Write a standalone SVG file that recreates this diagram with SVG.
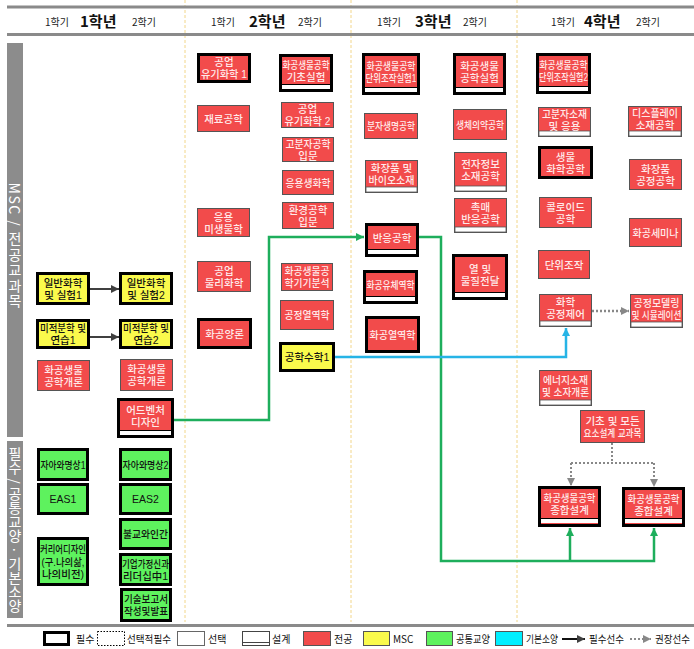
<svg xmlns="http://www.w3.org/2000/svg" width="694" height="649" viewBox="0 0 694 649">
<style>
text{font-family:"Noto Sans CJK KR","Noto Sans",sans-serif}
.t{font-family:"Liberation Sans","Noto Sans CJK KR",sans-serif;font-size:10.5px;text-anchor:middle;font-weight:500}
.w{fill:#ffeaea}
.k{fill:#111}
.R{fill:#f24b4b}
.Y{fill:#fafa4c}
.G{fill:#5ef25e}
.C{fill:#00efff}
.tk{stroke:#000;stroke-width:3}
.tn{stroke:#555;stroke-width:1}
.bd{fill:#fff}
.bdn{fill:#fff;stroke:#555;stroke-width:0.8}
.bl{fill:#000}
.hdr{font-size:10px;fill:#222}
.yr{font-size:15px;font-weight:bold;fill:#111}
.side{font-size:14px;fill:#fff;text-anchor:middle;writing-mode:vertical-rl}
.lg{font-size:10px;fill:#111}
.sep{stroke:#f2d68a;stroke-width:1;stroke-dasharray:3,2}
.hl{stroke:#8a8a8a;stroke-width:3}
</style>
<defs>
<marker id="ak" markerUnits="userSpaceOnUse" markerWidth="8" markerHeight="8" refX="8" refY="4" orient="auto"><path d="M0,0L8,4L0,8z" fill="#404040"/></marker>
<marker id="ag" markerUnits="userSpaceOnUse" markerWidth="8" markerHeight="8" refX="8" refY="4" orient="auto"><path d="M0,0L8,4L0,8z" fill="#1eae5c"/></marker>
<marker id="ab" markerUnits="userSpaceOnUse" markerWidth="8" markerHeight="8" refX="8" refY="4" orient="auto"><path d="M0,0L8,4L0,8z" fill="#26b4e6"/></marker>
<marker id="ad" markerUnits="userSpaceOnUse" markerWidth="8" markerHeight="8" refX="8" refY="4" orient="auto"><path d="M0,0L8,4L0,8z" fill="#888"/></marker>
</defs>
<rect width="694" height="649" fill="#fff"/>
<g id="frame">
<line class="sep" x1="185" y1="0" x2="185" y2="622"/>
<line class="sep" x1="351" y1="0" x2="351" y2="622"/>
<line class="sep" x1="517" y1="0" x2="517" y2="622"/>
<line class="hl" x1="7" y1="7" x2="694" y2="7"/>
<line class="hl" x1="7" y1="34.5" x2="694" y2="34.5"/>
<line class="hl" x1="7" y1="625.5" x2="694" y2="625.5"/>
<text class="hdr" x="45" y="26">1학기</text><text class="yr" x="80" y="27">1학년</text><text class="hdr" x="132" y="26">2학기</text>
<text class="hdr" x="211" y="26">1학기</text><text class="yr" x="249" y="27">2학년</text><text class="hdr" x="298" y="26">2학기</text>
<text class="hdr" x="377" y="26">1학기</text><text class="yr" x="415" y="27">3학년</text><text class="hdr" x="463" y="26">2학기</text>
<text class="hdr" x="551" y="26">1학기</text><text class="yr" x="584" y="27">4학년</text><text class="hdr" x="636" y="26">2학기</text>
<rect x="7" y="43" width="16" height="394" fill="#8c8c8c"/>
<rect x="7" y="441" width="16" height="177" fill="#8c8c8c"/>
<text class="side" x="15" y="246" style="letter-spacing:1.5px">MSC / 전공교과목</text>
<text class="side" x="15" y="530">필수 / 공통교양 · 기본소양</text>
</g>
<g id="connectors" fill="none">
<path d="M90,289H119" stroke="#404040" stroke-width="2" marker-end="url(#ak)"/>
<path d="M90,337H119" stroke="#404040" stroke-width="2" marker-end="url(#ak)"/>
<path d="M174,420H269V237H364" stroke="#1eae5c" stroke-width="2.5" marker-end="url(#ag)"/>
<path d="M419,237H441V561H654V528" stroke="#1eae5c" stroke-width="2.5" marker-end="url(#ag)"/>
<path d="M570,561V528" stroke="#1eae5c" stroke-width="2.5" marker-end="url(#ag)"/>
<path d="M335,357H566V328" stroke="#26b4e6" stroke-width="2.5" marker-end="url(#ab)"/>
<path d="M592,311H629" stroke="#888" stroke-width="2.5" stroke-dasharray="2,2" marker-end="url(#ad)"/>
<path d="M612,443V463M571,463H654" stroke="#888" stroke-width="2" stroke-dasharray="2,2"/>
<path d="M571,463V486" stroke="#888" stroke-width="2" stroke-dasharray="2,2" marker-end="url(#ad)"/>
<path d="M654,463V487" stroke="#888" stroke-width="2" stroke-dasharray="2,2" marker-end="url(#ad)"/>
</g>
<!-- Year 1 -->
<g id="n-genchem1"><rect class="Y tk" x="37.5" y="273.5" width="51" height="30"/><text class="t k" x="63" y="286.5">일반화학<tspan x="63" dy="12">및 실험1</tspan></text></g>
<g id="n-genchem2"><rect class="Y tk" x="120.5" y="273.5" width="51" height="30"/><text class="t k" x="146" y="286.5">일반화학<tspan x="146" dy="12">및 실험2</tspan></text></g>
<g id="n-calc1"><rect class="Y tk" x="37.5" y="320.5" width="51" height="27"/><text class="t k" x="63" y="332"><tspan textLength="46" lengthAdjust="spacingAndGlyphs">미적분학 및</tspan><tspan x="63" dy="12">연습1</tspan></text></g>
<g id="n-calc2"><rect class="Y tk" x="120.5" y="320.5" width="51" height="27"/><text class="t k" x="146" y="332"><tspan textLength="46" lengthAdjust="spacingAndGlyphs">미적분학 및</tspan><tspan x="146" dy="12">연습2</tspan></text></g>
<g id="n-intro1"><rect class="R tn" x="37.5" y="360.5" width="52" height="30"/><text class="t w" x="63.5" y="373.5">화공생물<tspan x="63.5" dy="12">공학개론</tspan></text></g>
<g id="n-intro2"><rect class="R tn" x="120.5" y="359.5" width="52" height="31"/><text class="t w" x="146.5" y="373">화공생물<tspan x="146.5" dy="12">공학개론</tspan></text></g>
<g id="n-adventure"><rect class="R tk" x="118.5" y="399.5" width="54" height="37"/><rect class="bl" x="120" y="430" width="51" height="1"/><rect class="bd" x="120" y="431" width="51" height="4"/><text class="t w" x="145.5" y="413.5">어드벤처<tspan x="145.5" dy="12">디자인</tspan></text></g>
<g id="n-self1"><rect class="G tk" x="38.5" y="449.5" width="49" height="30"/><text class="t k" x="63" y="468.5" textLength="45" lengthAdjust="spacingAndGlyphs">자아와명상1</text></g>
<g id="n-eas1"><rect class="G tk" x="38.5" y="484.5" width="49" height="29"/><text class="t k" x="63" y="503">EAS1</text></g>
<g id="n-career"><rect class="G tk" x="38.5" y="538.5" width="49" height="46"/><text class="t k" x="63" y="553"><tspan textLength="46" lengthAdjust="spacingAndGlyphs">커리어디자인</tspan><tspan x="63" dy="12.5" textLength="43" lengthAdjust="spacingAndGlyphs">(구.나의삶,</tspan><tspan x="63" dy="12.5">나의비전)</tspan></text></g>
<g id="n-self2"><rect class="G tk" x="120.5" y="449.5" width="50" height="30"/><text class="t k" x="145.5" y="468.5" textLength="46" lengthAdjust="spacingAndGlyphs">자아와명상2</text></g>
<g id="n-eas2"><rect class="G tk" x="120.5" y="484.5" width="50" height="29"/><text class="t k" x="145.5" y="503">EAS2</text></g>
<g id="n-buddhism"><rect class="G tk" x="120.5" y="519.5" width="50" height="29"/><text class="t k" x="145.5" y="538" textLength="45" lengthAdjust="spacingAndGlyphs">불교와인간</text></g>
<g id="n-leader"><rect class="G tk" x="120.5" y="554.5" width="50" height="30"/><text class="t k" x="145.5" y="567.5"><tspan textLength="47" lengthAdjust="spacingAndGlyphs">기업가정신과</tspan><tspan x="145.5" dy="12" textLength="45" lengthAdjust="spacingAndGlyphs">리더십中1</tspan></text></g>
<g id="n-report"><rect class="G tk" x="121.5" y="589.5" width="49" height="31"/><text class="t k" x="146" y="603"><tspan textLength="44" lengthAdjust="spacingAndGlyphs">기술보고서</tspan><tspan x="146" dy="12" textLength="44" lengthAdjust="spacingAndGlyphs">작성및발표</tspan></text></g>
<!-- Year 2 -->
<g id="n-orgchem1"><rect class="R tk" x="198.5" y="54.5" width="51" height="27"/><text class="t w" x="224" y="66">공업<tspan x="224" dy="12" textLength="46" lengthAdjust="spacingAndGlyphs">유기화학 1</tspan></text></g>
<g id="n-basiclab"><rect class="R tk" x="280.5" y="55.5" width="51" height="35"/><rect class="bl" x="282" y="84" width="48" height="1"/><rect class="bd" x="282" y="85" width="48" height="4"/><text class="t w" x="306" y="68.5"><tspan textLength="47" lengthAdjust="spacingAndGlyphs">화공생물공학</tspan><tspan x="306" dy="12">기초실험</tspan></text></g>
<g id="n-material"><rect class="R tn" x="197.5" y="105.5" width="52" height="26"/><text class="t w" x="223.5" y="122.5">재료공학</text></g>
<g id="n-orgchem2"><rect class="R tn" x="281.5" y="102.5" width="52" height="25"/><text class="t w" x="307.5" y="113">공업<tspan x="307.5" dy="12" textLength="46" lengthAdjust="spacingAndGlyphs">유기화학 2</tspan></text></g>
<g id="n-polymer"><rect class="R tn" x="282.5" y="137.5" width="51" height="24"/><text class="t w" x="308" y="147.5"><tspan textLength="45" lengthAdjust="spacingAndGlyphs">고분자공학</tspan><tspan x="308" dy="12">입문</tspan></text></g>
<g id="n-biochem"><rect class="R tn" x="282.5" y="170.5" width="51" height="24"/><text class="t w" x="308" y="186.5" textLength="45" lengthAdjust="spacingAndGlyphs">응용생화학</text></g>
<g id="n-env"><rect class="R tn" x="282.5" y="202.5" width="51" height="26"/><text class="t w" x="308" y="213.5">환경공학<tspan x="308" dy="12">입문</tspan></text></g>
<g id="n-micro"><rect class="R tn" x="197.5" y="208.5" width="52" height="28"/><text class="t w" x="223.5" y="220.5">응용<tspan x="223.5" dy="12">미생물학</tspan></text></g>
<g id="n-physchem"><rect class="R tn" x="197.5" y="261.5" width="53" height="30"/><text class="t w" x="224" y="274.5">공업<tspan x="224" dy="12">물리화학</tspan></text></g>
<g id="n-stoich"><rect class="R tk" x="198.5" y="319.5" width="52" height="28"/><text class="t w" x="224.5" y="337.5">화공양론</text></g>
<g id="n-instr"><rect class="R tn" x="281.5" y="263.5" width="51" height="27"/><text class="t w" x="307" y="275"><tspan textLength="45" lengthAdjust="spacingAndGlyphs">화공생물공</tspan><tspan x="307" dy="12" textLength="45" lengthAdjust="spacingAndGlyphs">학기기분석</tspan></text></g>
<g id="n-thermo"><rect class="R tn" x="280.5" y="300.5" width="53" height="29"/><text class="t w" x="307" y="319" textLength="45" lengthAdjust="spacingAndGlyphs">공정열역학</text></g>
<g id="n-engmath"><rect class="Y tk" x="280.5" y="343.5" width="53" height="27"/><text class="t k" x="307" y="361">공학수학1</text></g>
<!-- Year 3 -->
<g id="n-uolab1"><rect class="R tk" x="363.5" y="54.5" width="55" height="39"/><rect class="bl" x="365" y="87" width="52" height="1"/><rect class="bd" x="365" y="88" width="52" height="4"/><text class="t w" x="391" y="69.5"><tspan textLength="49" lengthAdjust="spacingAndGlyphs">화공생물공학</tspan><tspan x="391" dy="12" textLength="51" lengthAdjust="spacingAndGlyphs">단위조작실험1</tspan></text></g>
<g id="n-lab"><rect class="R tk" x="454.5" y="54.5" width="50" height="39"/><rect class="bl" x="456" y="87" width="47" height="1"/><rect class="bd" x="456" y="88" width="47" height="4"/><text class="t w" x="479.5" y="69.5">화공생물<tspan x="479.5" dy="12">공학실험</tspan></text></g>
<g id="n-molbio"><rect class="R tn" x="364.5" y="113.5" width="53" height="25"/><text class="t w" x="391" y="130" textLength="48" lengthAdjust="spacingAndGlyphs">분자생명공학</text></g>
<g id="n-biomed"><rect class="R tn" x="453.5" y="109.5" width="53" height="30"/><text class="t w" x="480" y="128.5" textLength="48" lengthAdjust="spacingAndGlyphs">생체의약공학</text></g>
<g id="n-cosmetic"><rect class="R tn" x="365.5" y="160.5" width="52" height="32"/><rect class="bdn" x="366" y="187" width="51" height="5"/><text class="t w" x="391.5" y="172">화장품 및<tspan x="391.5" dy="12" textLength="46" lengthAdjust="spacingAndGlyphs">바이오소재</tspan></text></g>
<g id="n-elec"><rect class="R tn" x="454.5" y="152.5" width="52" height="39"/><rect class="bdn" x="455" y="186" width="51" height="5"/><text class="t w" x="480.5" y="167.5">전자정보<tspan x="480.5" dy="12">소재공학</tspan></text></g>
<g id="n-catal"><rect class="R tn" x="454.5" y="198.5" width="52" height="34"/><rect class="bdn" x="455" y="227" width="51" height="5"/><text class="t w" x="480.5" y="211">촉매<tspan x="480.5" dy="12">반응공학</tspan></text></g>
<g id="n-reaction"><rect class="R tk" x="366.5" y="224.5" width="51" height="31"/><rect class="bl" x="368" y="249" width="48" height="1"/><rect class="bd" x="368" y="250" width="48" height="4"/><text class="t w" x="392" y="241.5">반응공학</text></g>
<g id="n-fluid"><rect class="R tk" x="364.5" y="271.5" width="52" height="31"/><rect class="bl" x="366" y="296" width="49" height="1"/><rect class="bd" x="366" y="297" width="49" height="4"/><text class="t w" x="390.5" y="288.5" textLength="48" lengthAdjust="spacingAndGlyphs">화공유체역학</text></g>
<g id="n-cethermo"><rect class="R tk" x="366.5" y="317.5" width="52" height="34"/><text class="t w" x="392.5" y="338.5" textLength="46" lengthAdjust="spacingAndGlyphs">화공열역학</text></g>
<g id="n-transfer"><rect class="R tk" x="453.5" y="255.5" width="53" height="43"/><rect class="bl" x="455" y="292" width="50" height="1"/><rect class="bd" x="455" y="293" width="50" height="4"/><text class="t w" x="480" y="272.5">열 및<tspan x="480" dy="12">물질전달</tspan></text></g>
<!-- Year 4 -->
<g id="n-uolab2"><rect class="R tk" x="537.5" y="54.5" width="52" height="38"/><rect class="bl" x="539" y="86" width="49" height="1"/><rect class="bd" x="539" y="87" width="49" height="4"/><text class="t w" x="563.5" y="69"><tspan textLength="48" lengthAdjust="spacingAndGlyphs">화공생물공학</tspan><tspan x="563.5" dy="12" textLength="49" lengthAdjust="spacingAndGlyphs">단위조작실험2</tspan></text></g>
<g id="n-polymat"><rect class="R tn" x="538.5" y="107.5" width="52" height="29"/><rect class="bdn" x="539" y="131" width="51" height="5"/><text class="t w" x="564.5" y="117.5"><tspan textLength="45" lengthAdjust="spacingAndGlyphs">고분자소재</tspan><tspan x="564.5" dy="12">및 응용</tspan></text></g>
<g id="n-display"><rect class="R tn" x="628.5" y="106.5" width="53" height="30"/><rect class="bdn" x="629" y="131" width="52" height="5"/><text class="t w" x="655" y="117"><tspan textLength="46" lengthAdjust="spacingAndGlyphs">디스플레이</tspan><tspan x="655" dy="12">소재공학</tspan></text></g>
<g id="n-biochemeng"><rect class="R tk" x="539.5" y="147.5" width="52" height="30"/><text class="t w" x="565.5" y="160.5">생물<tspan x="565.5" dy="12">화학공학</tspan></text></g>
<g id="n-cosproc"><rect class="R tn" x="629.5" y="159.5" width="52" height="30"/><text class="t w" x="655.5" y="172.5">화장품<tspan x="655.5" dy="12">공정공학</tspan></text></g>
<g id="n-colloid"><rect class="R tn" x="539.5" y="197.5" width="52" height="30"/><text class="t w" x="565.5" y="210.5">콜로이드<tspan x="565.5" dy="12">공학</tspan></text></g>
<g id="n-seminar"><rect class="R tn" x="629.5" y="218.5" width="52" height="28"/><text class="t w" x="655.5" y="236.5" textLength="46" lengthAdjust="spacingAndGlyphs">화공세미나</text></g>
<g id="n-unitop"><rect class="R tn" x="538.5" y="250.5" width="51" height="28"/><text class="t w" x="564" y="268.5">단위조작</text></g>
<g id="n-control"><rect class="R tn" x="539.5" y="294.5" width="52" height="32"/><rect class="bdn" x="540" y="321" width="51" height="5"/><text class="t w" x="565.5" y="306">화학<tspan x="565.5" dy="12">공정제어</tspan></text></g>
<g id="n-model"><rect class="R tn" x="630.5" y="294.5" width="52" height="33"/><rect class="bdn" x="631" y="322" width="51" height="5"/><text class="t w" x="656.5" y="306.5"><tspan textLength="46" lengthAdjust="spacingAndGlyphs">공정모델링</tspan><tspan x="656.5" dy="12" textLength="50" lengthAdjust="spacingAndGlyphs">및 시뮬레이션</tspan></text></g>
<g id="n-energy"><rect class="R tn" x="539.5" y="370.5" width="52" height="35"/><rect class="bdn" x="540" y="400" width="51" height="5"/><text class="t w" x="565.5" y="383.5"><tspan textLength="45" lengthAdjust="spacingAndGlyphs">에너지소재</tspan><tspan x="565.5" dy="12" textLength="47" lengthAdjust="spacingAndGlyphs">및 소자개론</tspan></text></g>
<g id="n-element"><rect class="R tn" x="580.5" y="410.5" width="64" height="32"/><text class="t w" x="612.5" y="424.5">기초 및 모든<tspan x="612.5" dy="12" textLength="58" lengthAdjust="spacingAndGlyphs">요소설계 교과목</tspan></text></g>
<g id="n-capstone1"><rect class="R tk" x="539.5" y="487.5" width="60" height="38"/><rect class="bl" x="541" y="518" width="57" height="1"/><rect class="bd" x="541" y="519" width="57" height="4"/><text class="t w" x="569.5" y="502"><tspan textLength="52" lengthAdjust="spacingAndGlyphs">화공생물공학</tspan><tspan x="569.5" dy="12">종합설계</tspan></text></g>
<g id="n-capstone2"><rect class="R tk" x="623.5" y="488.5" width="60" height="37"/><rect class="bl" x="625" y="518" width="57" height="1"/><rect class="bd" x="625" y="519" width="57" height="4"/><text class="t w" x="653.5" y="502.5"><tspan textLength="52" lengthAdjust="spacingAndGlyphs">화공생물공학</tspan><tspan x="653.5" dy="12">종합설계</tspan></text></g>
<g id="legend">
<rect x="44.5" y="632.5" width="24" height="12" fill="#fff" stroke="#000" stroke-width="3"/><text class="lg" x="76" y="643">필수</text>
<rect x="97.5" y="631.5" width="27" height="14" fill="#fff" stroke="#000" stroke-width="1" stroke-dasharray="1.5,1.5"/><text class="lg" x="127" y="643" textLength="44" lengthAdjust="spacingAndGlyphs">선택적필수</text>
<rect x="177.5" y="631.5" width="27" height="14" fill="#fff" stroke="#666"/><text class="lg" x="208" y="643">선택</text>
<rect x="242.5" y="631.5" width="27" height="14" fill="#fff" stroke="#444"/><line x1="243" y1="642.5" x2="269" y2="642.5" stroke="#444"/><text class="lg" x="272" y="643">설계</text>
<rect x="303.5" y="631.5" width="27" height="14" class="R" stroke="#555"/><text class="lg" x="334" y="643">전공</text>
<rect x="363.5" y="631.5" width="26" height="14" class="Y" stroke="#555"/><text class="lg" x="393" y="643">MSC</text>
<rect x="426.5" y="631.5" width="26" height="14" class="G" stroke="#555"/><text class="lg" x="456" y="643" textLength="34" lengthAdjust="spacingAndGlyphs">공통교양</text>
<rect x="495.5" y="631.5" width="27" height="14" class="C" stroke="#555"/><text class="lg" x="526" y="643" textLength="32" lengthAdjust="spacingAndGlyphs">기본소양</text>
<path d="M562,639H585" stroke="#111" stroke-width="2" fill="none" marker-end="url(#ak)"/><text class="lg" x="589" y="643" textLength="35" lengthAdjust="spacingAndGlyphs">필수선수</text>
<path d="M630,639H651" stroke="#888" stroke-width="2" stroke-dasharray="2,2" fill="none" marker-end="url(#ad)"/><text class="lg" x="655" y="643" textLength="35" lengthAdjust="spacingAndGlyphs">권장선수</text>
</g>
</svg>
